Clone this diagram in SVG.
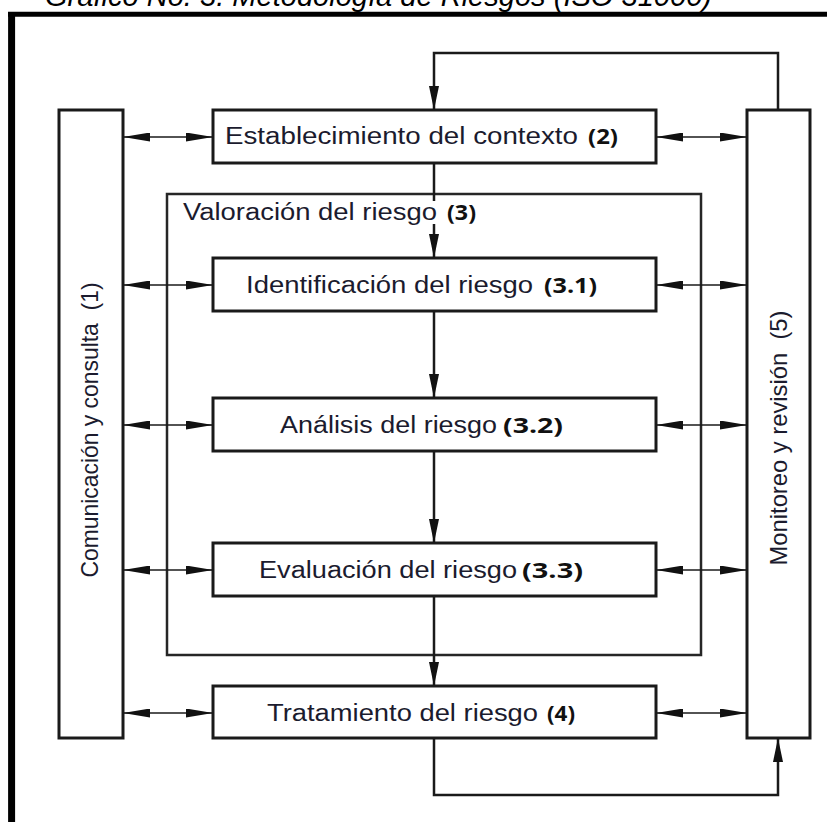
<svg xmlns="http://www.w3.org/2000/svg" width="827" height="822" viewBox="0 0 827 822">
<style>
.box{fill:#fff;stroke:#1a1a1a;stroke-width:3}
.outer{fill:none;stroke:#262626;stroke-width:2.5}
.lbl{font-family:"Liberation Sans",Arial,sans-serif;font-size:23.5px;fill:#1b1b2e}
.num{font-family:"Open Sans","Liberation Sans",sans-serif;font-weight:bold;font-size:22px;fill:#111}
.side{font-family:"Liberation Sans",Arial,sans-serif;font-size:24px;fill:#1b1b2e}
.h{fill:none;stroke:#1a1a1a;stroke-width:1.6}
.v{fill:none;stroke:#1a1a1a;stroke-width:2.5}
</style>
<defs>
<marker id="ah" markerUnits="userSpaceOnUse" viewBox="0 0 27 9" markerWidth="27" markerHeight="9" refX="27" refY="4.5" orient="auto-start-reverse">
<path d="M0,0 L27,4.5 L0,9 Z" fill="#111"/>
</marker>
<marker id="av" markerUnits="userSpaceOnUse" viewBox="0 0 24 10" markerWidth="24" markerHeight="10" refX="24" refY="5" orient="auto">
<path d="M0,0 L24,5 L0,10 Z" fill="#111"/>
</marker>
</defs>
<rect width="827" height="822" fill="#fff"/>
<g id="frame">
<line x1="8" y1="14.3" x2="827" y2="14.3" stroke="#000" stroke-width="5"/>
<line x1="11.6" y1="12" x2="11.6" y2="822" stroke="#000" stroke-width="7"/>
<text x="45" y="6" font-family="Liberation Sans,Arial,sans-serif" font-style="italic" font-size="29" fill="#000" textLength="667" lengthAdjust="spacingAndGlyphs">Gráfico No. 3. Metodología de Riesgos (ISO 31000)</text>
</g>
<g id="valoracion">
<rect class="outer" x="167" y="194" width="534" height="461"/>
<text class="lbl" x="183" y="220" textLength="254" lengthAdjust="spacingAndGlyphs">Valoración del riesgo</text>
<text class="num" x="447" y="220" textLength="29" lengthAdjust="spacingAndGlyphs">(3)</text>
</g>
<g id="comunicacion">
<rect class="box" x="59" y="110" width="64" height="628"/>
<text class="side" transform="translate(98,430) rotate(-90)" text-anchor="middle" xml:space="preserve" textLength="295" lengthAdjust="spacingAndGlyphs">Comunicación y consulta  (1)</text>
</g>
<g id="monitoreo">
<rect class="box" x="747" y="110" width="63" height="628"/>
<text class="side" transform="translate(787,438) rotate(-90)" text-anchor="middle" xml:space="preserve" textLength="255" lengthAdjust="spacingAndGlyphs">Monitoreo y revisión  (5)</text>
</g>
<g id="contexto">
<rect class="box" x="213" y="110" width="443" height="53"/>
<text class="lbl" x="225" y="144" textLength="353" lengthAdjust="spacingAndGlyphs">Establecimiento del contexto</text>
<text class="num" x="588" y="144" textLength="30" lengthAdjust="spacingAndGlyphs">(2)</text>
</g>
<g id="identificacion">
<rect class="box" x="213" y="258" width="443" height="53"/>
<text class="lbl" x="246" y="293" textLength="287" lengthAdjust="spacingAndGlyphs">Identificación del riesgo</text>
<text class="num" x="544" y="293" textLength="53" lengthAdjust="spacingAndGlyphs">(3.1)</text>
</g>
<g id="analisis">
<rect class="box" x="213" y="398" width="443" height="53"/>
<text class="lbl" x="280" y="433" textLength="217" lengthAdjust="spacingAndGlyphs">Análisis del riesgo</text>
<text class="num" x="503" y="433" textLength="60" lengthAdjust="spacingAndGlyphs">(3.2)</text>
</g>
<g id="evaluacion">
<rect class="box" x="213" y="543" width="443" height="53"/>
<text class="lbl" x="259" y="578" textLength="258" lengthAdjust="spacingAndGlyphs">Evaluación del riesgo</text>
<text class="num" x="522" y="578" textLength="61" lengthAdjust="spacingAndGlyphs">(3.3)</text>
</g>
<g id="tratamiento">
<rect class="box" x="213" y="686" width="443" height="52"/>
<text class="lbl" x="267" y="721" textLength="271" lengthAdjust="spacingAndGlyphs">Tratamiento del riesgo</text>
<text class="num" x="547" y="721" textLength="28" lengthAdjust="spacingAndGlyphs">(4)</text>
</g>
<g id="connectors">
<path class="h" d="M123,137 H213" marker-start="url(#ah)" marker-end="url(#ah)"/>
<path class="h" d="M656,137 H747" marker-start="url(#ah)" marker-end="url(#ah)"/>
<path class="h" d="M123,285 H213" marker-start="url(#ah)" marker-end="url(#ah)"/>
<path class="h" d="M656,285 H747" marker-start="url(#ah)" marker-end="url(#ah)"/>
<path class="h" d="M123,425 H213" marker-start="url(#ah)" marker-end="url(#ah)"/>
<path class="h" d="M656,425 H747" marker-start="url(#ah)" marker-end="url(#ah)"/>
<path class="h" d="M123,570 H213" marker-start="url(#ah)" marker-end="url(#ah)"/>
<path class="h" d="M656,570 H747" marker-start="url(#ah)" marker-end="url(#ah)"/>
<path class="h" d="M123,713 H213" marker-start="url(#ah)" marker-end="url(#ah)"/>
<path class="h" d="M656,713 H747" marker-start="url(#ah)" marker-end="url(#ah)"/>
<path class="v" d="M778,110 V53 H434 V110" marker-end="url(#av)"/>
<path class="v" d="M434,163 V201"/>
<path class="v" d="M434,224 V258" marker-end="url(#av)"/>
<path class="v" d="M434,311 V398" marker-end="url(#av)"/>
<path class="v" d="M434,451 V543" marker-end="url(#av)"/>
<path class="v" d="M434,596 V686" marker-end="url(#av)"/>
<path class="v" d="M434,738 V795 H778 V738" marker-end="url(#av)"/>
</g>
</svg>
